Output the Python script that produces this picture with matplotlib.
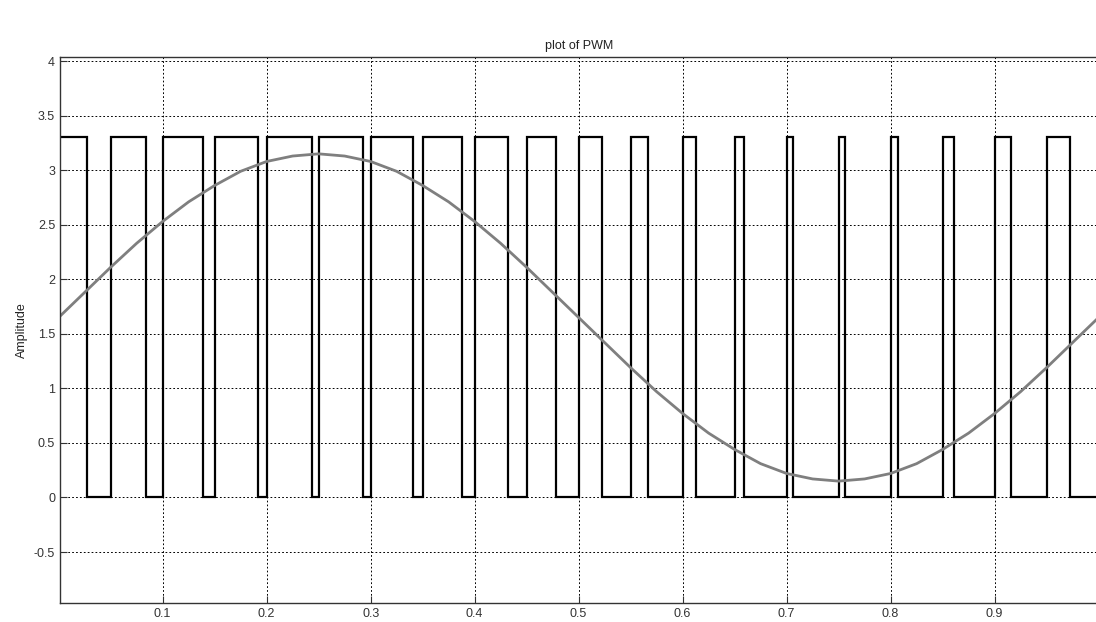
import matplotlib
matplotlib.use('Agg')
import matplotlib.pyplot as plt

# PWM edges (seconds)
fall_t = [0.0275, 0.0839, 0.1385, 0.1919, 0.2438, 0.2929, 0.3410, 0.3875, 0.4323, 0.4779,
          0.5221, 0.5669, 0.6125, 0.6592, 0.7063, 0.7560, 0.8073, 0.8609, 0.9154, 0.9724]
rise_t = [0.05, 0.10, 0.15, 0.20, 0.25, 0.30, 0.35, 0.40, 0.45, 0.50,
          0.55, 0.60, 0.65, 0.70, 0.75, 0.80, 0.85, 0.90, 0.95]
pwm_high = 3.3
pwm_low = 0.0

# reference sine, read every 0.025 s
sine_t = [i * 0.025 for i in range(41)]
sine_v = [1.65, 1.88, 2.11, 2.33, 2.53, 2.71, 2.86, 2.99, 3.08, 3.13, 3.15,
          3.13, 3.08, 2.99, 2.86, 2.71, 2.53, 2.33, 2.11, 1.88, 1.65,
          1.42, 1.19, 0.97, 0.77, 0.59, 0.44, 0.31, 0.22, 0.17, 0.15,
          0.17, 0.22, 0.31, 0.44, 0.59, 0.77, 0.97, 1.19, 1.42, 1.65]

# build the step signal from the edges
px = [0.0]
py = [pwm_high]
for i, f in enumerate(fall_t):
    px += [f, f]
    py += [pwm_high, pwm_low]
    if i < len(rise_t):
        r = rise_t[i]
        px += [r, r]
        py += [pwm_low, pwm_high]
px.append(1.0)
py.append(pwm_low)

plt.rcParams['font.family'] = ['Liberation Sans', 'DejaVu Sans']

fig = plt.figure(figsize=(10.96, 6.22), dpi=100)
W, H = 1096.0, 622.0
left = 60 / W
width = 1038.6 / W
bottom = (H - 603.3) / H
height = (603.3 - 57.3) / H
ax = fig.add_axes([left, bottom, width, height])

ax.plot(px, py, color='black', linewidth=1.6, solid_joinstyle='miter')
ax.plot(sine_t, sine_v, color='#7f7f7f', linewidth=2.0)

ax.set_xlim(0.0013, 1.0)
ax.set_ylim(-0.97, 4.035)
ax.set_xticks([0.1, 0.2, 0.3, 0.4, 0.5, 0.6, 0.7, 0.8, 0.9])
ax.set_yticks([-0.5, 0, 0.5, 1, 1.5, 2, 2.5, 3, 3.5, 4])
ax.set_yticklabels(['-0.5', '0', '0.5', '1', '1.5', '2', '2.5', '3', '3.5', '4'])
ax.grid(True, color='black', linestyle=(0, (1.8, 2.2)), linewidth=0.7)
ax.tick_params(direction='in', length=5, labelsize=9, colors='#333333')
for s in ax.spines.values():
    s.set_color('#333333')
    s.set_linewidth(1.0)
ax.spines['right'].set_visible(False)

ax.set_title('plot of PWM', fontsize=9, color='#222222', pad=6)
ax.set_ylabel('Amplitude', fontsize=9, color='#222222', labelpad=4)

fig.savefig('out.png', dpi=100)
